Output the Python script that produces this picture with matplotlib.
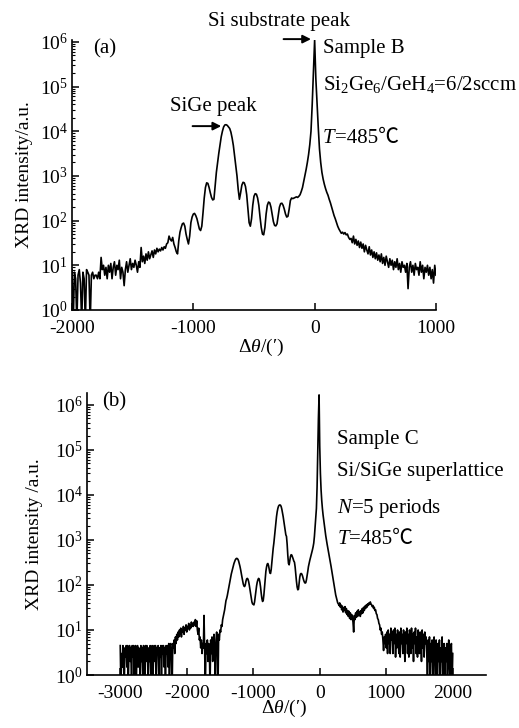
import numpy as np
import matplotlib
matplotlib.use("Agg")
import matplotlib.pyplot as plt
from matplotlib.ticker import LogFormatterSciNotation, NullFormatter, FixedLocator

plt.rcParams['font.family'] = ['Liberation Serif', 'Noto Sans CJK SC', 'DejaVu Serif']
plt.rcParams['mathtext.fontset'] = 'custom'
plt.rcParams['mathtext.rm'] = 'Liberation Serif'
plt.rcParams['mathtext.it'] = 'Liberation Serif:italic'
plt.rcParams['mathtext.bf'] = 'Liberation Serif:bold'
plt.rcParams['mathtext.fallback'] = 'stix'
plt.rcParams['axes.unicode_minus'] = False

# ---------------- Panel (a): Sample B, scan step 10' ----------------
a_starts = list(range(-2000, 1001, 100))
a_rows = [
    [8, 0.5, 7, 5, 0.5, 6, 8, 4, 0.5, 7],
    [5, 0.5, 8, 7, 6, 0.5, 6, 7, 5, 6],
    [6, 5, 7, 5, 15, 8, 10, 6, 9, 5],
    [10, 7, 11, 5, 9, 12, 6, 10, 8, 13],
    [5, 9, 7, 3.5, 8, 12, 7, 10, 14, 8],
    [11, 9, 13, 10, 7, 12, 9, 25, 12, 16],
    [11, 18, 13, 20, 14, 17, 21, 15, 22, 18],
    [24, 20, 23, 21, 25, 22, 26, 24, 30, 32],
    [45, 38, 35, 42, 30, 25, 20, 18, 35, 55],
    [70, 85, 88, 75, 50, 38, 30, 45, 90, 120],
    [140, 145, 130, 110, 85, 65, 60, 75, 150, 320],
    [550, 700, 680, 550, 420, 330, 290, 300, 600, 1200],
    [2000, 3200, 5000, 7500, 10000, 12500, 13800, 14000, 13500, 12500],
    [11500, 9500, 7000, 4800, 2800, 1700, 1000, 500, 300, 420],
    [620, 720, 700, 580, 380, 180, 90, 75, 110, 220],
    [350, 400, 390, 320, 220, 120, 70, 50, 48, 70],
    [140, 220, 260, 250, 200, 140, 95, 78, 76, 85],
    [130, 200, 240, 245, 220, 180, 140, 120, 125, 180],
    [280, 320, 310, 320, 330, 340, 330, 350, 380, 450],
    [550, 750, 1000, 1400, 2000, 3000, 5000, 10000, 40000, 200000],
    [1100000, 150000, 40000, 12000, 4000, 2000, 1200, 850, 650, 520],
    [430, 370, 300, 250, 200, 160, 130, 110, 90, 75],
    [65, 58, 52, 55, 50, 54, 48, 50, 42, 38],
    [40, 32, 45, 30, 38, 28, 35, 25, 33, 24],
    [30, 20, 28, 22, 18, 26, 17, 22, 15, 20],
    [14, 19, 13, 17, 12, 18, 11, 15, 10, 16],
    [12, 9, 14, 10, 13, 8, 12, 9, 14, 8],
    [11, 7, 12, 9, 10, 7, 11, 3, 9, 12],
    [7, 10, 6, 11, 8, 9, 6, 12, 7, 10],
    [5, 9, 7, 10, 6, 9, 5, 8, 4, 10],
    [6],
]

# ---------------- Panel (b): Sample C, scan step 10' ----------------
b_starts = list(range(-3000, 2001, 100))
b_rows = [
    [4.5, 0.5, 3, 1.5, 4.5, 2, 0.5, 4, 2.5, 4.5],
    [1.5, 4.5, 0.5, 3, 4.5, 2, 4, 0.5, 4.5, 2.5],
    [4.5, 1, 3.5, 4.5, 0.5, 2.5, 4.5, 1.5, 4, 3],
    [0.5, 4.5, 2, 4, 1, 4.5, 3, 0.5, 4.5, 2],
    [4.5, 3, 0.5, 4, 2, 4.5, 1, 3.5, 4.5, 0.5],
    [3, 4.5, 2, 4.5, 0.5, 4, 3, 4.5, 1, 4],
    [2.5, 4.5, 0.5, 4.5, 3, 4.5, 1.5, 4, 0.5, 4.5],
    [3, 4.5, 1.5, 5, 0.5, 4.5, 5, 3, 0.5, 5],
    [4, 6, 3, 7, 5, 8, 6, 9, 7, 10],
    [8, 11, 7, 10, 9, 12, 8, 11, 10, 13],
    [9, 12, 11, 14, 10, 13, 11, 15, 12, 14],
    [12, 15, 13, 17, 12, 16, 10, 8, 11, 6],
    [7, 4, 6, 3, 5, 4, 21, 3, 0.5, 5],
    [3, 6, 2, 5, 4, 0.5, 6, 3, 7, 2],
    [5, 8, 3, 0.5, 6, 9, 4, 0.5, 8, 6],
    [10, 9, 13, 12, 17, 20, 24, 28, 35, 45],
    [50, 58, 70, 85, 100, 125, 150, 175, 200, 230],
    [260, 300, 330, 360, 380, 390, 385, 370, 340, 300],
    [260, 220, 180, 150, 125, 105, 95, 92, 100, 120],
    [135, 140, 135, 120, 100, 80, 62, 50, 42, 38],
    [37, 36, 42, 55, 75, 95, 115, 130, 140, 135],
    [115, 90, 65, 50, 43, 45, 60, 90, 140, 200],
    [250, 290, 300, 270, 220, 185, 180, 220, 320, 480],
    [650, 850, 1200, 1700, 2400, 3300, 4200, 5000, 5600, 5900],
    [6000, 5900, 5500, 4800, 4000, 3300, 2600, 2000, 1600, 1300],
    [1200, 800, 450, 300, 280, 350, 430, 470, 460, 420],
    [380, 340, 320, 250, 170, 120, 90, 78, 80, 110],
    [150, 175, 180, 175, 160, 140, 125, 115, 110, 112],
    [130, 160, 200, 255, 300, 350, 400, 450, 520, 600],
    [700, 850, 1200, 1900, 3000, 5000, 15000, 100000, 500000, 1660000],
    [120000, 30000, 13000, 7500, 5000, 3600, 2750, 2100, 1600, 1250],
    [1000, 820, 680, 560, 470, 390, 320, 260, 210, 170],
    [135, 110, 90, 72, 60, 52, 45, 40, 38, 35],
    [40, 32, 36, 28, 34, 25, 31, 27, 33, 24],
    [30, 22, 27, 20, 26, 18, 24, 17, 22, 19],
    [15, 9, 21, 17, 24, 19, 26, 20, 28, 22],
    [25, 20, 27, 23, 30, 24, 32, 27, 34, 30],
    [36, 32, 38, 35, 40, 37, 42, 38, 36, 33],
    [35, 30, 32, 27, 28, 23, 22, 18, 17, 14],
    [13, 10, 11, 8, 9, 6, 3.5, 7, 5, 8],
    [4, 9, 3, 10, 5, 8, 3, 11, 6, 9],
    [3, 10, 5, 11, 2.5, 8, 4, 10, 6, 3],
    [9, 2.5, 11, 5, 8, 3, 10, 6, 2, 9],
    [5, 11, 3, 8, 2.5, 10, 6, 3, 11, 4],
    [8, 2, 9, 5, 11, 3, 7, 2.5, 10, 5],
    [3, 9, 6, 2, 10, 4, 8, 2.5, 9, 5],
    [7, 3, 0.5, 6, 2, 7, 0.5, 5, 2, 6],
    [0.5, 4, 7, 2, 0.5, 6, 3, 0.5, 5, 2],
    [6, 0.5, 4, 2, 7, 0.5, 3, 5, 0.5, 4],
    [2, 5, 0.5, 3, 6, 1.5, 0.5, 4, 5, 0.5],
    [3],
]

a_xticks = [-2000, -1000, 0, 1000]
b_xticks = [-3000, -2000, -1000, 0, 1000, 2000]
y_decades = [0, 1, 2, 3, 4, 5, 6]


def build(starts, rows, step=10):
    xs, ys = [], []
    for s, r in zip(starts, rows):
        xs.extend(s + step * np.arange(len(r)))
        ys.extend(r)
    return np.array(xs, float), np.array(ys, float)


xa, ya = build(a_starts, a_rows)
xb, yb = build(b_starts, b_rows)

FS = 14     # ticks / axis labels
FT = 15     # annotations
fig = plt.figure(figsize=(5.19, 7.28), dpi=100)
ax1 = fig.add_axes([0.1387, 0.5742, 0.7013, 0.3708])
ax2 = fig.add_axes([0.1676, 0.0728, 0.7688, 0.3878])


def style(ax, xlim, ytop, xticks):
    ax.set_yscale('log')
    ax.set_xlim(*xlim)
    ax.set_ylim(1, ytop)
    ax.spines['top'].set_visible(False)
    ax.spines['right'].set_visible(False)
    for s in ('left', 'bottom'):
        ax.spines[s].set_linewidth(1.2)
    ax.xaxis.set_major_locator(FixedLocator(xticks))
    majors = [10.0 ** d for d in y_decades]
    minors = [k * 10.0 ** d for d in y_decades for k in range(2, 10) if k * 10.0 ** d <= ytop]
    ax.yaxis.set_major_locator(FixedLocator(majors))
    ax.yaxis.set_major_formatter(LogFormatterSciNotation())
    ax.yaxis.set_minor_locator(FixedLocator(minors))
    ax.yaxis.set_minor_formatter(NullFormatter())
    ax.tick_params(axis='both', which='major', direction='in', length=5, width=1.1,
                   labelsize=FS, pad=3)
    ax.tick_params(axis='y', which='minor', direction='in', length=2.5, width=0.8)
    ax.tick_params(axis='x', which='minor', bottom=False)
    ax.tick_params(axis='x', which='major', pad=7)


def temp_label(ax, x, y):
    t = ax.text(x, y, 'T', transform=ax.transAxes, fontsize=FT, style='italic',
                va='center', ha='left')
    ax.annotate('=485℃', xy=(1, 0), xycoords=t, fontsize=FT, va='bottom', ha='left')


ax1.plot(xa, ya, color='k', lw=1.2)
style(ax1, (-2000, 1000), 10 ** 6.04, a_xticks)
ax1.set_ylabel('XRD intensity/a.u.', fontsize=FS)
ax1.set_xlabel(r'$\Delta\mathit{\theta}$/(′)', fontsize=FS)
ax1.yaxis.set_label_coords(-0.108, 0.5)
ax1.xaxis.set_label_coords(0.52, -0.10)

ax1.text(0.058, 0.967, '(a)', transform=ax1.transAxes, fontsize=FT, va='center', ha='left')
ax1.text(0.374, 1.067, 'Si substrate peak', transform=ax1.transAxes, fontsize=FT,
         va='center', ha='left', clip_on=False)
ax1.text(0.69, 0.967, 'Sample B', transform=ax1.transAxes, fontsize=FT, va='center', ha='left')
ax1.text(0.69, 0.836, r'Si$_2$Ge$_6$/GeH$_4$=6/2sccm', transform=ax1.transAxes,
         fontsize=FT, va='center', ha='left')
temp_label(ax1, 0.69, 0.635)
ax1.text(0.269, 0.755, 'SiGe peak', transform=ax1.transAxes, fontsize=FT,
         va='center', ha='left')
arrow = dict(arrowstyle='-|>', color='k', lw=1.4, mutation_scale=12, shrinkA=0, shrinkB=0)
ax1.annotate('', xy=(-30, 1.15e6), xytext=(-256, 1.15e6), arrowprops=arrow,
             annotation_clip=False)
ax1.annotate('', xy=(-770, 1.3e4), xytext=(-1006, 1.3e4), arrowprops=arrow,
             annotation_clip=False)

ax2.plot(xb, yb, color='k', lw=1.2)
style(ax2, (-3500, 2500), 10 ** 6.27, b_xticks)
ax2.set_ylabel('XRD intensity /a.u.', fontsize=FS)
ax2.set_xlabel(r'$\Delta\mathit{\theta}$/(′)', fontsize=FS)
ax2.yaxis.set_label_coords(-0.11, 0.5)
ax2.xaxis.set_label_coords(0.494, -0.08)

ax2.text(0.038, 0.968, '(b)', transform=ax2.transAxes, fontsize=FT, va='center', ha='left')
ax2.text(0.627, 0.833, 'Sample C', transform=ax2.transAxes, fontsize=FT, va='center', ha='left')
ax2.text(0.627, 0.721, 'Si/SiGe superlattice', transform=ax2.transAxes, fontsize=FT,
         va='center', ha='left')
ax2.text(0.627, 0.591, r'$N$=5 periods', transform=ax2.transAxes, fontsize=FT,
         va='center', ha='left')
temp_label(ax2, 0.627, 0.479)

fig.savefig('out.png', dpi=100)
